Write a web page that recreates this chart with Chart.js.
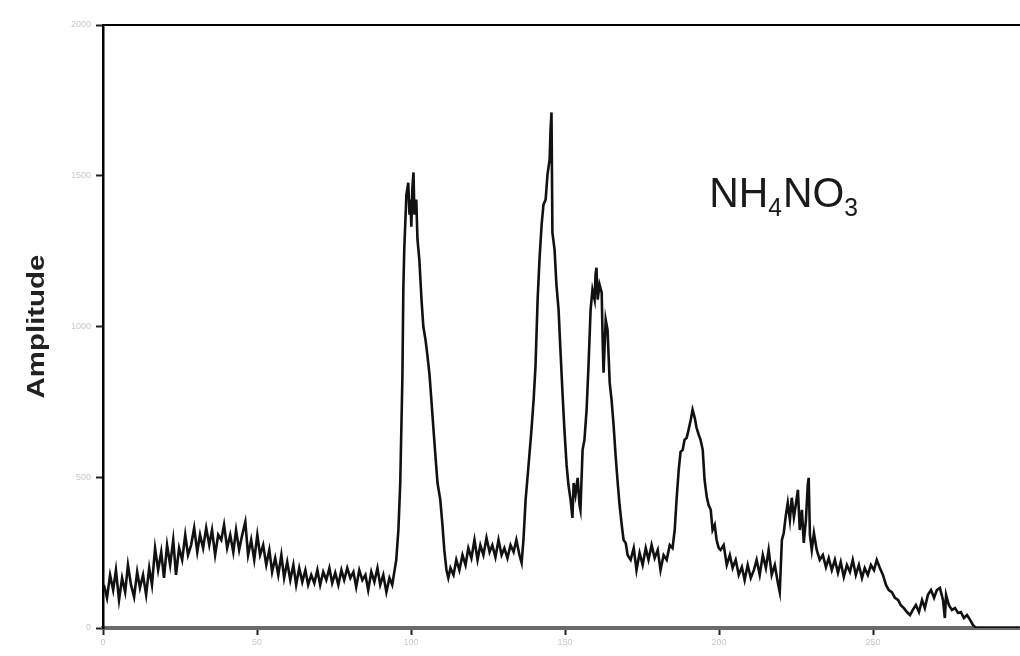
<!DOCTYPE html>
<html>
<head>
<meta charset="utf-8">
<script src="https://cdn.jsdelivr.net/npm/chart.js@4/dist/chart.umd.min.js"></script>
<style>
  html, body { margin: 0; padding: 0; background: #fff; }
  #wrap { width: 1020px; height: 656px; position: relative; }
</style>
</head>
<body>
<div id="wrap"><canvas id="spectrumChart"></canvas></div>
<script>
// values
const xValues = [
    0.3, 1.3, 2.3, 3.3, 4.2, 5.2, 6.2, 7.2, 8.1, 9.1, 10.1, 11.1, 12.0, 13.0, 14.0, 15.0, 15.9, 16.9, 17.9, 18.9,
    19.8, 20.8, 21.8, 22.8, 23.7, 24.7, 25.7, 26.7, 27.6, 28.6, 29.6, 30.6, 31.5, 32.5, 33.5, 34.5, 35.4, 36.4, 37.4, 38.4,
    39.3, 40.3, 41.3, 42.3, 43.2, 44.2, 45.2, 46.2, 47.1, 48.1, 49.1, 50.1, 51.0, 52.0, 53.0, 54.0, 54.9, 55.9, 56.9, 57.9,
    58.8, 59.8, 60.8, 61.8, 62.7, 63.7, 64.7, 65.7, 66.6, 67.6, 68.6, 69.6, 70.5, 71.5, 72.5, 73.5, 74.4, 75.4, 76.4, 77.4,
    78.3, 79.3, 80.3, 81.3, 82.2, 83.2, 84.2, 85.2, 86.1, 87.1, 88.1, 89.1, 90.0, 91.0, 92.0, 93.0, 93.9,
    95.2, 95.9, 96.5, 97.2, 97.5, 97.8, 98.5, 99.1, 99.5, 99.8, 100.1, 100.4, 100.8, 101.1, 101.7, 102.1, 102.7, 103.4, 104.0, 104.7,
    105.3, 106.0, 106.6, 107.3, 107.9, 108.6, 109.5, 110.2, 110.8, 111.5, 112.1,
    112.8, 113.8, 114.7, 115.7, 116.7, 117.7, 118.6, 119.6, 120.6, 121.6, 122.5, 123.5, 124.5, 125.5, 126.4, 127.4, 128.4, 129.4, 130.3, 131.3,
    132.3, 133.3, 134.2, 135.2, 135.9,
    136.5, 137.2, 138.1, 139.1, 139.8, 140.4, 141.1, 141.7, 142.4, 143.0, 143.7, 144.3, 145.0, 145.3, 145.6, 145.9, 146.6, 147.2, 147.9, 148.5,
    149.2, 149.8, 150.5, 151.1, 151.8, 152.4, 152.8, 153.4, 154.1, 154.7, 155.0, 155.7, 156.3, 157.0, 157.6, 158.3, 158.9, 159.6, 159.9, 160.2,
    160.6, 161.2, 161.9, 162.2, 162.5, 163.2, 163.8, 164.5, 165.1, 165.8, 166.4, 167.1, 167.7, 168.4, 169.0, 169.7, 170.3, 171.3, 172.3, 173.2,
    174.2, 175.2, 176.2, 177.1, 178.1, 179.1, 180.1, 181.0, 182.0, 183.0, 184.0, 184.9, 185.6,
    186.2, 186.9, 187.5, 188.2, 188.8, 189.5, 190.1, 190.8, 191.4, 192.1, 192.7, 193.4, 194.0, 194.7, 195.3, 196.0, 196.6, 197.3, 197.9, 198.6,
    199.2, 199.9, 200.5, 201.5, 202.5, 203.5, 204.4, 205.4, 206.4, 207.4, 208.3, 209.3, 210.3, 211.3, 212.2, 213.2, 214.2, 215.2, 216.1, 217.1,
    218.1, 219.1, 219.7, 220.4, 221.0, 221.7, 222.3, 223.0, 223.6, 224.3, 224.9, 225.6, 226.2, 226.9, 227.5, 228.2, 228.8, 229.1, 229.5, 230.1,
    230.8, 231.7, 232.7, 233.7, 234.7, 235.6, 236.6, 237.6, 238.6, 239.5, 240.5, 241.5, 242.5, 243.4, 244.4, 245.4, 246.4, 247.3, 248.3, 249.3,
    250.3, 251.2, 252.2, 253.2, 254.2, 255.1, 256.1, 257.1, 258.1, 259.0, 260.0, 261.0, 262.0, 262.9, 263.9, 264.9, 265.9, 266.8, 267.8, 268.8,
    269.8, 270.7, 271.7, 272.7, 273.3, 273.7, 274.6, 275.6, 276.6, 277.6, 278.5, 279.5, 280.5, 281.5, 282.4, 283.4, 286.7, 291.5, 297.6
];
const amplitude = [
    143, 100, 176, 126, 192, 93, 166, 119, 209, 143, 103, 186, 133, 176, 110, 199, 143, 265, 192, 252,
    166, 275, 209, 292, 176, 265, 226, 309, 242, 275, 332, 252, 309, 265, 332, 275, 325, 242, 309, 292,
    342, 265, 309, 252, 325, 259, 309, 352, 242, 292, 226, 309, 242, 275, 209, 259, 186, 232, 176, 242,
    166, 219, 159, 209, 143, 199, 153, 192, 143, 176, 149, 192, 143, 186, 159, 199, 149, 183, 143, 192,
    159, 199, 166, 186, 136, 192, 159, 176, 126, 186, 153, 199, 143, 176, 119, 166, 143,
    226, 325, 481, 833, 1122, 1255, 1437, 1477, 1371, 1421, 1331, 1454, 1511, 1371, 1421, 1288, 1222, 1089, 999, 956,
    906, 840, 757, 657, 574, 481, 425, 342, 259, 192, 166,
    199, 176, 226, 192, 242, 209, 265, 232, 292, 226, 275, 242, 299, 252, 275, 235, 292, 242, 265, 232,
    275, 252, 292, 242, 216,
    292, 425, 534, 657, 757, 866, 1089, 1222, 1338, 1404, 1421, 1504, 1554, 1653, 1710, 1311, 1255, 1139, 1056, 923,
    774, 657, 541, 475, 425, 365, 481, 442, 498, 408, 392, 591, 624, 724, 866, 1056, 1122, 1089, 1172, 1195,
    1089, 1139, 1112, 956, 847, 1023, 989, 813, 757, 667, 574, 481, 408, 342, 292, 282, 242, 226, 265, 192,
    249, 209, 265, 226, 275, 232, 259, 192, 242, 226, 275, 265, 325,
    425, 524, 584, 591, 624, 631, 657, 690, 724, 697, 664, 641, 624, 591, 491, 435, 408, 392, 325, 342,
    292, 265, 259, 275, 209, 242, 199, 226, 176, 202, 159, 209, 166, 192, 226, 176, 242, 199, 259, 176,
    209, 149, 119, 292, 315, 375, 415, 358, 432, 368, 408, 458, 325, 392, 282, 358, 475, 498, 309, 259,
    315, 259, 226, 242, 202, 232, 192, 226, 183, 219, 169, 209, 186, 226, 176, 209, 166, 199, 176, 209,
    192, 226, 199, 176, 143, 126, 119, 100, 93, 76, 66, 53, 43, 60, 76, 53, 93, 66, 110, 126,
    100, 126, 133, 93, 33, 110, 76, 60, 66, 50, 53, 33, 43, 27, 10, 0, 0, 0, 0
];
const xTicks = [0, 50, 100, 150, 200, 250];
const yTicks = [0, 500, 1000, 1500, 2000];
const yTitle = 'Amplitude';
const compound = ['NH', '4', 'NO', '3'];

const points = xValues.map((x, i) => ({ x: x, y: amplitude[i] }));

const fontFamily = '"Liberation Sans", Arial, sans-serif';

const decorPlugin = {
    id: 'decor',
    afterDraw(chart) {
        const ctx = chart.ctx;
        const area = chart.chartArea;
        const xs = chart.scales.x;
        const ys = chart.scales.y;

        // top frame line
        ctx.save();
        ctx.strokeStyle = '#000';
        ctx.lineWidth = 2;
        ctx.beginPath();
        ctx.moveTo(area.left, area.top);
        ctx.lineTo(area.right, area.top);
        ctx.stroke();
        ctx.restore();

        // rotated axis title
        ctx.save();
        ctx.fillStyle = '#222';
        ctx.font = 'bold 23px ' + fontFamily;
        ctx.translate(38, (area.top + area.bottom) / 2);
        ctx.rotate(-Math.PI / 2);
        ctx.scale(1.28, 1);
        ctx.textAlign = 'center';
        ctx.textBaseline = 'middle';
        ctx.fillText(yTitle, 0, 0);
        ctx.restore();

        // compound label with subscripts
        ctx.save();
        ctx.fillStyle = '#1a1a1a';
        ctx.textBaseline = 'alphabetic';
        const px = xs.getPixelForValue(196.8);
        const base = ys.getPixelForValue(1396);
        ctx.translate(px, base);
        ctx.scale(0.95, 1);
        let cx = 0;
        compound.forEach((part, i) => {
            const sub = i % 2 === 1;
            ctx.font = (sub ? '26px ' : '43px ') + fontFamily;
            ctx.fillText(part, cx, sub ? 9 : 0);
            cx += ctx.measureText(part).width + (sub ? 1 : 0);
        });
        ctx.restore();
    }
};

new Chart(document.getElementById('spectrumChart'), {
    type: 'line',
    data: {
        datasets: [{
            label: yTitle,
            data: points,
            borderColor: '#111',
            borderWidth: 2.6,
            pointRadius: 0,
            tension: 0,
            fill: false
        }]
    },
    options: {
        responsive: true,
        maintainAspectRatio: false,
        animation: false,
        layout: { padding: { top: 25, right: 0, left: 0, bottom: 0 } },
        plugins: {
            legend: { display: false },
            tooltip: { enabled: false }
        },
        scales: {
            x: {
                type: 'linear',
                min: 0,
                max: 297.7,
                afterBuildTicks: (scale) => { scale.ticks = xTicks.map(v => ({ value: v })); },
                afterFit: (scale) => { scale.height = 28; },
                border: { display: true, color: '#6a6a6a', width: 4 },
                grid: { drawOnChartArea: false, drawTicks: true, tickLength: 7, tickColor: '#222', tickWidth: 2 },
                ticks: { color: '#c8c8c8', font: { size: 9, family: fontFamily }, padding: 2, maxRotation: 0,
                         callback: (v) => String(v) }
            },
            y: {
                min: 0,
                max: 2000,
                afterBuildTicks: (scale) => { scale.ticks = yTicks.map(v => ({ value: v })); },
                afterFit: (scale) => { scale.width = 103; },
                border: { display: true, color: '#000', width: 2.5 },
                grid: { drawOnChartArea: false, drawTicks: true, tickLength: 7, tickColor: '#222', tickWidth: 2 },
                ticks: { color: '#c8c8c8', font: { size: 9, family: fontFamily }, padding: 5,
                         callback: (v) => String(v) }
            }
        }
    },
    plugins: [decorPlugin]
});
</script>
</body>
</html>
